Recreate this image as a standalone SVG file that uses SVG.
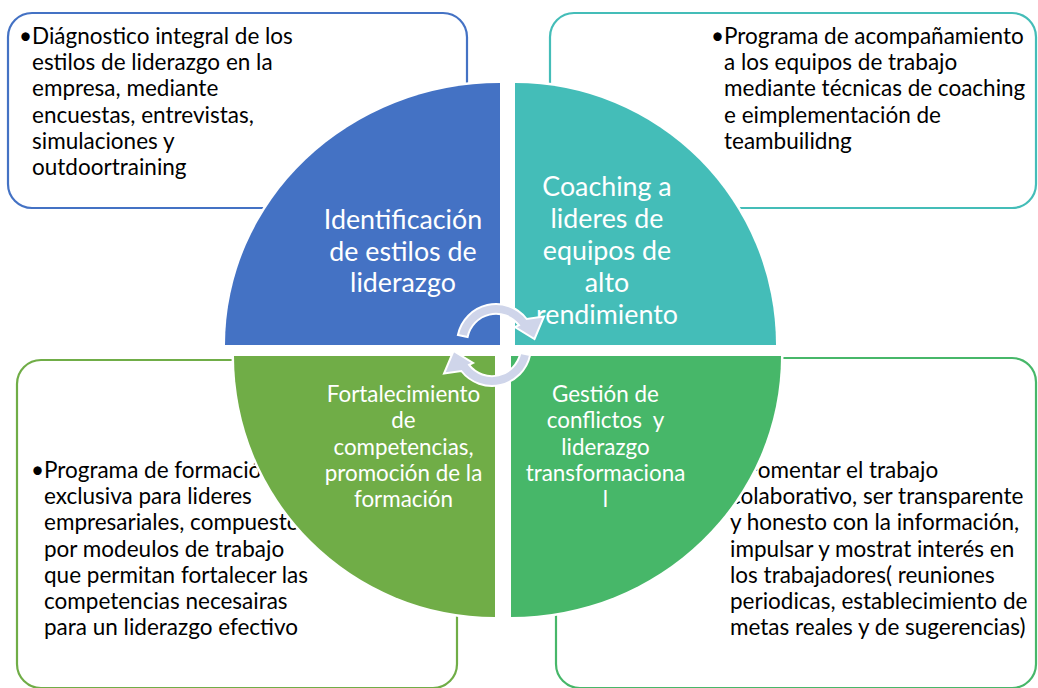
<svg xmlns="http://www.w3.org/2000/svg" width="1038" height="688" viewBox="0 0 1038 688">
<style>
.box{fill:#fff;stroke-width:2.2}
.bt{font-family:Lato,"Liberation Sans",sans-serif;font-size:22.5px;fill:#000}
.qt{font-family:Lato,"Liberation Sans",sans-serif;fill:#fff;text-anchor:middle}
.q1{font-size:26.8px}
.q2{font-size:22.4px}
.quad{stroke:#fff;stroke-width:5;paint-order:stroke}
.arr{fill:#CFD5EA;stroke:#fff;stroke-width:2;stroke-linejoin:miter}
</style>
<defs>
<path id="carrow" d="M457.9,334.9 A39,39 0 0 1 526.7,319 L544,316.5 L534.5,339 L515,327 L518.9,325.1 A29,29 0 0 0 467.6,337 Z"/>
</defs>
<rect width="1038" height="688" fill="#fff"/>

<g id="box-tl">
<rect class="box" x="8" y="13" width="459" height="195" rx="24" stroke="#4472C4"/>
<text class="bt"><tspan x="19" y="44">•</tspan><tspan x="32" y="44">Diágnostico integral de los</tspan><tspan x="32" y="70.2">estilos de liderazgo en la</tspan><tspan x="32" y="96.4">empresa, mediante</tspan><tspan x="32" y="122.6">encuestas, entrevistas,</tspan><tspan x="32" y="148.8">simulaciones y</tspan><tspan x="32" y="175">outdoortraining</tspan></text>
</g>
<g id="box-tr">
<rect class="box" x="550" y="13" width="486" height="195" rx="24" stroke="#44BDB8"/>
<text class="bt"><tspan x="711" y="44">•</tspan><tspan x="724" y="44">Programa de acompañamiento</tspan><tspan x="724" y="70.2">a los equipos de trabajo</tspan><tspan x="724" y="96.4">mediante técnicas de coaching</tspan><tspan x="724" y="122.6">e eimplementación de</tspan><tspan x="724" y="148.8">teambuilidng</tspan></text>
</g>
<g id="box-bl">
<rect class="box" x="17" y="360" width="440" height="328" rx="24" stroke="#70AD47"/>
<text class="bt"><tspan x="31" y="478">•</tspan><tspan x="44" y="478">Programa de formación</tspan><tspan x="44" y="504.2">exclusiva para lideres</tspan><tspan x="44" y="530.4">empresariales, compuesto</tspan><tspan x="44" y="556.6">por modeulos de trabajo</tspan><tspan x="44" y="582.8">que permitan fortalecer las</tspan><tspan x="44" y="609">competencias necesairas</tspan><tspan x="44" y="635.2">para un liderazgo efectivo</tspan></text>
</g>
<g id="box-br">
<rect class="box" x="556" y="358" width="480" height="330" rx="24" stroke="#47B769"/>
<text class="bt"><tspan x="733" y="478">•</tspan><tspan x="746" y="478">Fomentar el trabajo</tspan><tspan x="730" y="504.2">colaborativo, ser transparente</tspan><tspan x="730" y="530.4">y honesto con la información,</tspan><tspan x="730" y="556.6">impulsar y mostrat interés en</tspan><tspan x="730" y="582.8">los trabajadores( reuniones</tspan><tspan x="730" y="609">periodicas, establecimiento de</tspan><tspan x="730" y="635.2">metas reales y de sugerencias)</tspan></text>
</g>

<g id="node-identificacion">
<path class="quad" d="M500,345 L225,345 A275,262 0 0 1 500,83 Z" fill="#4472C4"/>
<text class="qt q1"><tspan x="403" y="228.5">Identificación</tspan><tspan x="403" y="260.5">de estilos de</tspan><tspan x="403" y="292">liderazgo</tspan></text>
</g>
<g id="node-coaching">
<path class="quad" d="M515,345 L515,83 A261,262 0 0 1 776,345 Z" fill="#44BDB8"/>
<text class="qt q1"><tspan x="607" y="196">Coaching a</tspan><tspan x="607" y="228">lideres de</tspan><tspan x="607" y="260">equipos de</tspan><tspan x="607" y="292">alto</tspan><tspan x="607" y="324">rendimiento</tspan></text>
</g>
<g id="node-fortalecimiento">
<path class="quad" d="M495,356 L495,617 A261,261 0 0 1 234,356 Z" fill="#70AD47"/>
<text class="qt q2"><tspan x="403.5" y="401.5">Fortalecimiento</tspan><tspan x="403.5" y="428">de</tspan><tspan x="403.5" y="454.5">competencias,</tspan><tspan x="403.5" y="481">promoción de la</tspan><tspan x="403.5" y="507">formación</tspan></text>
</g>
<g id="node-gestion">
<path class="quad" d="M511,356 L781,356 A270,261 0 0 1 511,617 Z" fill="#47B769"/>
<text class="qt q2" xml:space="preserve"><tspan x="605.5" y="401.5">Gestión de</tspan><tspan x="605.5" y="428">conflictos  y</tspan><tspan x="605.5" y="454.5">liderazgo</tspan><tspan x="605.5" y="481">transformaciona</tspan><tspan x="605.5" y="507">l</tspan></text>
</g>

<g id="connectors">
<use href="#carrow" class="arr"/>
<use href="#carrow" class="arr" transform="rotate(180 494 345)"/>
</g>
</svg>
